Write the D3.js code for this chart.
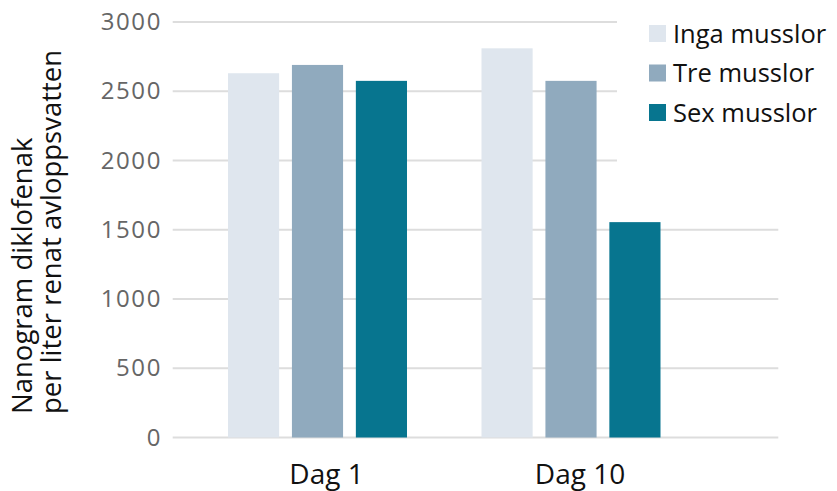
<!DOCTYPE html>
<html>
<head>
<meta charset="utf-8">
<script src="https://cdn.jsdelivr.net/npm/d3@7"></script>
<style>
  html, body { margin: 0; padding: 0; background: #fff; }
  svg { display: block; }
  text { font-family: "Open Sans", "Noto Sans", sans-serif; }
</style>
</head>
<body>
<svg id="chart" width="837" height="491"></svg>
<script>
const categories = ["Dag 1", "Dag 10"];
const seriesNames = ["Inga musslor", "Tre musslor", "Sex musslor"];
const ingaMusslor = [2630, 2810];
const treMusslor = [2690, 2575];
const sexMusslor = [2575, 1555];
const seriesValues = [ingaMusslor, treMusslor, sexMusslor];
const yTicks = [0, 500, 1000, 1500, 2000, 2500, 3000];
const colors = ["#dfe6ee", "#90aabe", "#07758f"];
const yTitleLines = ["Nanogram diklofenak", "per liter renat avloppsvatten"];

const svg = d3.select("#chart");

const y = d3.scaleLinear().domain([0, 3000]).range([437.5, 22]);
const x0 = d3.scaleBand().domain(categories).range([190.75, 697.75]).padding(0);
const x1 = d3.scaleBand().domain(seriesNames).range([37.25, 216.25]).paddingInner(0.2).paddingOuter(0);
const color = d3.scaleOrdinal().domain(seriesNames).range(colors);

// gridlines
svg.append("g").selectAll("line").data(yTicks).join("line")
  .attr("x1", 172.7).attr("x2", 778.3)
  .attr("y1", d => y(d)).attr("y2", d => y(d))
  .attr("stroke", "#dddddd").attr("stroke-width", 2);

// y tick labels
const yAxis = d3.axisLeft(y).tickValues(yTicks).tickSize(0).tickPadding(0).tickFormat(d3.format("d"));
const ya = svg.append("g").attr("transform", "translate(162,0)").call(yAxis);
ya.select(".domain").remove();
ya.selectAll("text")
  .attr("fill", "#666666")
  .style("font-size", "24px")
  .style("letter-spacing", "1.6px")
  .style("font-family", "'Open Sans', sans-serif");

// bars
const rows = categories.map((c, i) => ({ cat: c, vals: seriesNames.map((s, j) => ({ s, v: seriesValues[j][i] })) }));
svg.append("g").selectAll("g").data(rows).join("g")
  .attr("transform", d => `translate(${x0(d.cat)},0)`)
  .selectAll("rect").data(d => d.vals).join("rect")
  .attr("x", d => x1(d.s))
  .attr("width", x1.bandwidth())
  .attr("y", d => y(d.v))
  .attr("height", d => y(0) - y(d.v))
  .attr("fill", d => color(d.s));

// x category labels
const xAxis = d3.axisBottom(x0).tickSize(0).tickPadding(0);
const xa = svg.append("g").attr("transform", "translate(9,464)").call(xAxis);
xa.select(".domain").remove();
xa.selectAll("text")
  .attr("fill", "#111111")
  .attr("dy", "0.71em")
  .style("font-size", "28px")
  .style("font-family", "'Open Sans', sans-serif");

// y axis title
const t = svg.append("text")
  .attr("transform", "translate(0,414) rotate(-90)")
  .attr("fill", "#111111")
  .style("font-size", "27.5px");
t.selectAll("tspan").data(yTitleLines).join("tspan")
  .attr("x", 0)
  .attr("y", (d, i) => 32 + i * 29)
  .text(d => d);

// legend (white background covering gridlines)
svg.append("rect").attr("x", 617).attr("y", 0).attr("width", 220).attr("height", 175).attr("fill", "#fff");
const lg = svg.append("g").selectAll("g").data(seriesNames).join("g")
  .attr("transform", (d, i) => `translate(649,${25 + i * 39.5})`);
lg.append("rect").attr("width", 17).attr("height", 17).attr("fill", d => color(d));
lg.append("text")
  .attr("x", 24).attr("y", 8.5).attr("dy", "0.36em")
  .attr("fill", "#111111")
  .style("font-size", "25.5px")
  .text(d => d);
</script>
</body>
</html>
